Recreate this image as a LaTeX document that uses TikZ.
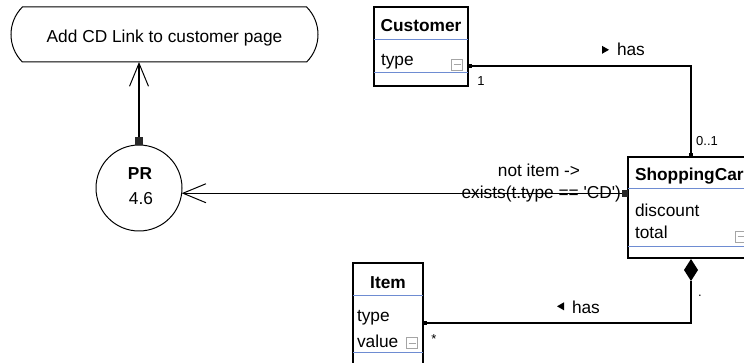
\documentclass[tikz,border=0pt]{standalone}
\usepackage{fontspec}
\setmainfont{Liberation Sans}
\usetikzlibrary{shapes.misc,shapes.geometric,arrows.meta,calc}
\definecolor{sepblue}{RGB}{110,140,210}
\definecolor{icongray}{RGB}{165,165,165}
\definecolor{sqgray}{RGB}{40,40,40}
\begin{document}
\begin{tikzpicture}[x=1pt,y=-1pt,
  every node/.style={inner sep=0pt,outer sep=0pt,font=\fontsize{17.3}{20}\selectfont},
  taskbox/.style={draw,line width=1pt,rounded rectangle,rounded rectangle arc length=90,minimum width=307pt,minimum height=55pt},
  prcircle/.style={draw,line width=1pt,circle,minimum size=86pt},
  classbox/.style={draw,line width=1.3pt,anchor=north west},
  sep/.style={draw=sepblue,line width=1pt},
  conn/.style={draw,line width=1.3pt},
  smalllbl/.style={font=\fontsize{13}{15}\selectfont},
  boldlbl/.style={font=\fontsize{17.3}{20}\selectfont\bfseries},
  icon/.style={draw=icongray,line width=1pt,minimum width=11pt,minimum height=11pt,
    path picture={\draw[icongray,line width=1pt] ([xshift=2pt]path picture bounding box.west) -- ([xshift=-2pt]path picture bounding box.east);}},
]
\useasboundingbox (0,0) rectangle (744,363);
\clip (0,0) rectangle (744,363);

% task and PR
\node[taskbox] (task) at (164.5,34.5) {};
\node[anchor=base] (taskl) at (164.5,43) {Add CD Link to customer page};
\node[prcircle] (pr) at (139,188) {};
\node[boldlbl,anchor=base] (prl) at (140,180) {PR};
\node[anchor=base] (prn) at (141,205) {4.6};

% Customer
\node[classbox,minimum width=94pt,minimum height=79pt] (cust) at (374,7) {};
\draw[sep] (374,40) -- (468,40);
\draw[sep] (374,73) -- (468,73);
\node[boldlbl,anchor=base] (custl) at (421,32) {Customer};
\node[anchor=base west] (custt) at (381,66) {type};
\node[icon] (ic1) at (457,65) {};

% ShoppingCart
\node[classbox,minimum width=126pt,minimum height=101pt] (cart) at (628,157) {};
\draw[sep] (628,189) -- (754,189);
\draw[sep] (628,247) -- (754,247);
\node[boldlbl,anchor=base west] (cartl) at (635,181) {ShoppingCar};
\node[anchor=base west] (cartd) at (635,217) {discount};
\node[anchor=base west] (cartt) at (635,239) {total};
\node[icon] (ic2) at (741,237) {};

% Item
\node[classbox,minimum width=70pt,minimum height=120pt] (item) at (353,263) {};
\draw[sep] (353,296) -- (423,296);
\draw[sep] (353,352) -- (423,352);
\node[boldlbl,anchor=base] (iteml) at (388,288) {Item};
\node[anchor=base west] (itemt) at (357,321) {type};
\node[anchor=base west] (itemv) at (357,347) {value};
\node[icon] (ic3) at (412,343) {};

% composition diamond
\node[diamond,fill,minimum width=14pt,minimum height=22pt,anchor=north] (dia) at ($(cart.south)+(0,1)$) {};

% connectors
\coordinate (custend) at ($(cust.south east)+(0,-20)$);
\draw[conn,{Square[length=4pt,width=4pt]}-{Square[length=4pt,width=4pt]}] (custend) -| (cart.north);
\coordinate (itemend) at ($(item.north east)+(0,60)$);
\draw[conn,-{Square[length=4pt,width=4pt]}] (dia.south) |- (itemend);
\draw[conn,{Square[length=6pt,width=7pt,sqgray]}-{Straight Barb[length=23pt,width=19pt,line width=1pt]}] (cart.west |- pr.-7) -- (pr.-7);
\draw[conn,{Square[length=8pt,width=8pt,sqgray]}-{Straight Barb[length=23pt,width=19pt,line width=1pt]}] (pr.north) -- (pr.north |- task.south);

% association labels
\node[anchor=base west] (has1) at (617,56) {has};
\fill ($(has1.west)+(-15,-4)$) -- ($(has1.west)+(-15,4)$) -- ($(has1.west)+(-8,0)$) -- cycle;
\node[anchor=base west] (has2) at (572,313) {has};
\fill ($(has2.west)+(-8,-4.5)$) -- ($(has2.west)+(-8,3.5)$) -- ($(has2.west)+(-15,-0.5)$) -- cycle;
\node[smalllbl,anchor=base] (m1) at (481,86) {1};
\node[smalllbl,anchor=base] (m2) at (707,146) {0..1};
\node[smalllbl,anchor=base] (m3) at (434,343) {*};
\node[smalllbl,anchor=base] (m4) at (700,296) {.};

% constraint label
\node[anchor=base] (c1) at (539,177) {not item ->};
\node[anchor=base east] (c2) at (621,199) {exists(t.type == \textquotesingle CD\textquotesingle)};
\end{tikzpicture}
\end{document}
